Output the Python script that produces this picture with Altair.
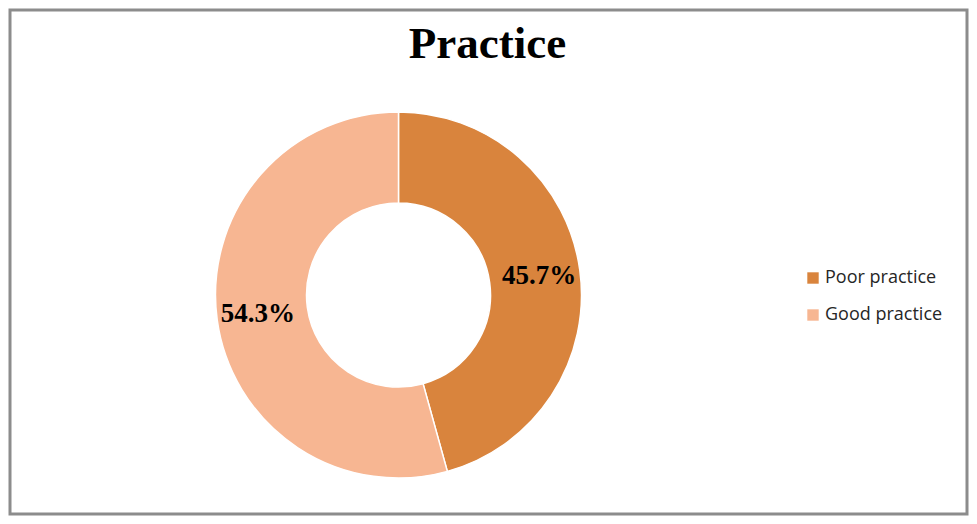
import altair as alt
import pandas as pd

categories = ["Poor practice", "Good practice"]
values = [45.7, 54.3]
labels = ["45.7%", "54.3%"]
colors = ["#D9843D", "#F7B692"]
title_text = ["Practice"]

df = pd.DataFrame({"category": categories, "value": values, "label": labels, "order": [0, 1]})

CX, CY = 388.5, 285

base = alt.Chart(df).encode(
    theta=alt.Theta("value:Q", stack=True),
    order=alt.Order("order:Q"),
)

arcs = base.mark_arc(radius=183, innerRadius=92, stroke="white", strokeWidth=1.5).encode(
    x=alt.value(CX),
    y=alt.value(CY),
    color=alt.Color(
        "category:N",
        scale=alt.Scale(domain=categories, range=colors),
        sort=categories,
        legend=alt.Legend(
            title=None, orient="none", legendX=794, legendY=259, padding=0,
            symbolType="square", symbolSize=130, symbolStrokeWidth=0,
            labelFont="Open Sans", labelFontSize=18, labelColor="#262626",
            rowPadding=19, labelOffset=3,
        ),
    ),
)

texts = base.mark_text(
    radius=142, font="Liberation Serif", fontSize=27, fontWeight="bold", color="black"
).encode(x=alt.value(CX), y=alt.value(CY), text="label:N")

title = alt.Chart(pd.DataFrame({"t": title_text})).mark_text(
    font="Liberation Serif", fontSize=45, fontWeight="bold", baseline="alphabetic", color="black"
).encode(text="t:N", x=alt.value(477.5), y=alt.value(48))

chart = alt.layer(arcs, texts, title).properties(
    width=957, height=504, padding=2, autosize=alt.AutoSizeParams(type="none")
).configure_view(stroke="#8c8c8c", strokeWidth=3)

chart.save("out.html", embed_options={"renderer": "svg", "actions": False})
